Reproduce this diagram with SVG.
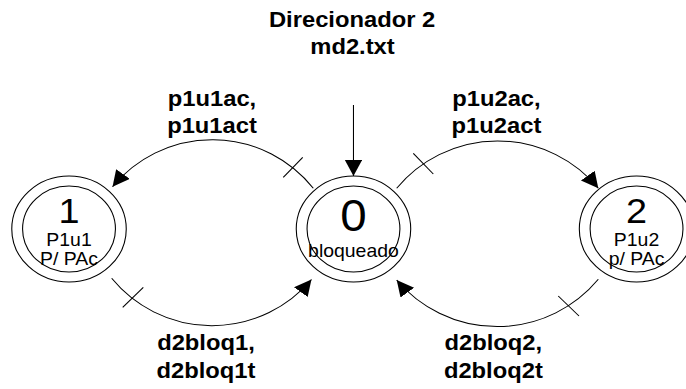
<svg xmlns="http://www.w3.org/2000/svg" width="686" height="389" viewBox="0 0 686 389">
  <style>
    .ring { fill: none; stroke: #000; stroke-width: 1; }
    .edge { fill: none; stroke: #000; stroke-width: 1; }
    .tick { stroke: #000; stroke-width: 1; }
    .lbl { font-family: "Liberation Sans", Arial, sans-serif; font-weight: bold; font-size: 22px; fill: #000; text-anchor: middle; }
    .num { font-family: "Liberation Sans", Arial, sans-serif; font-size: 35px; fill: #000; text-anchor: middle; }
    .sub { font-family: "Liberation Sans", Arial, sans-serif; font-size: 18px; fill: #000; text-anchor: middle; }
  </style>
  <defs>
    <marker id="arrow" markerUnits="userSpaceOnUse" markerWidth="17" markerHeight="17" refX="16" refY="8" orient="auto" viewBox="0 0 17 17">
      <path d="M0,0 L16,8 L0,16 z" fill="#000"/>
    </marker>
  </defs>
  <rect width="686" height="389" fill="#fff"/>
  <g transform="scale(1.08 1)">
    <g id="title">
      <text class="lbl" x="326" y="27">Direcionador 2</text>
      <text class="lbl" x="326.4" y="54">md2.txt</text>
    </g>
    <g id="node1">
      <circle class="ring" cx="63.9" cy="229" r="53"/>
      <circle class="ring" cx="63.9" cy="229" r="43"/>
      <text class="num" x="63.9" y="223">1</text>
      <text class="sub" x="63.9" y="246.5">P1u1</text>
      <text class="sub" x="63.9" y="265">P/ PAc</text>
    </g>
    <g id="node0">
      <circle class="ring" cx="327.3" cy="229" r="53"/>
      <circle class="ring" cx="327.3" cy="229" r="43"/>
      <text class="num" x="327.3" y="231.5" style="font-size:44px">0</text>
      <text class="sub" x="327.3" y="257">bloqueado</text>
    </g>
    <g id="node2">
      <circle class="ring" cx="589.4" cy="229" r="53"/>
      <circle class="ring" cx="589.4" cy="229" r="43"/>
      <text class="num" x="589.4" y="223">2</text>
      <text class="sub" x="589.4" y="246.5">P1u2</text>
      <text class="sub" x="589.4" y="265">p/ PAc</text>
    </g>
    <g id="connectors">
      <path class="edge" d="M327.3,105 L327.3,176" marker-end="url(#arrow)"/>
      <path class="edge" d="M290.1,188.3 A119.7,129.3 0 0 0 104.2,186.7" marker-end="url(#arrow)"/>
      <path class="edge" d="M367.3,188.3 A121.3,131 0 0 1 554,188.3" marker-end="url(#arrow)"/>
      <path class="edge" d="M103.4,278.3 A120.4,130 0 0 0 288.4,279.5" marker-end="url(#arrow)"/>
      <path class="edge" d="M554,279.3 A121.9,131.6 0 0 1 367.3,280" marker-end="url(#arrow)"/>
      <line class="tick" x1="262.3" y1="177.3" x2="280.3" y2="157.3"/>
      <line class="tick" x1="382.7" y1="153.3" x2="401.2" y2="174"/>
      <line class="tick" x1="113.6" y1="307.3" x2="132.7" y2="287.3"/>
      <line class="tick" x1="516.9" y1="296" x2="536.1" y2="316"/>
    </g>
    <g id="edge-labels">
      <text class="lbl" x="196.3" y="106">p1u1ac,</text>
      <text class="lbl" x="196.3" y="133">p1u1act</text>
      <text class="lbl" x="459.7" y="106">p1u2ac,</text>
      <text class="lbl" x="459.7" y="133">p1u2act</text>
      <text class="lbl" x="190.7" y="350">d2bloq1,</text>
      <text class="lbl" x="190.7" y="378">d2bloq1t</text>
      <text class="lbl" x="456.8" y="350">d2bloq2,</text>
      <text class="lbl" x="456.8" y="378">d2bloq2t</text>
    </g>
  </g>
</svg>
